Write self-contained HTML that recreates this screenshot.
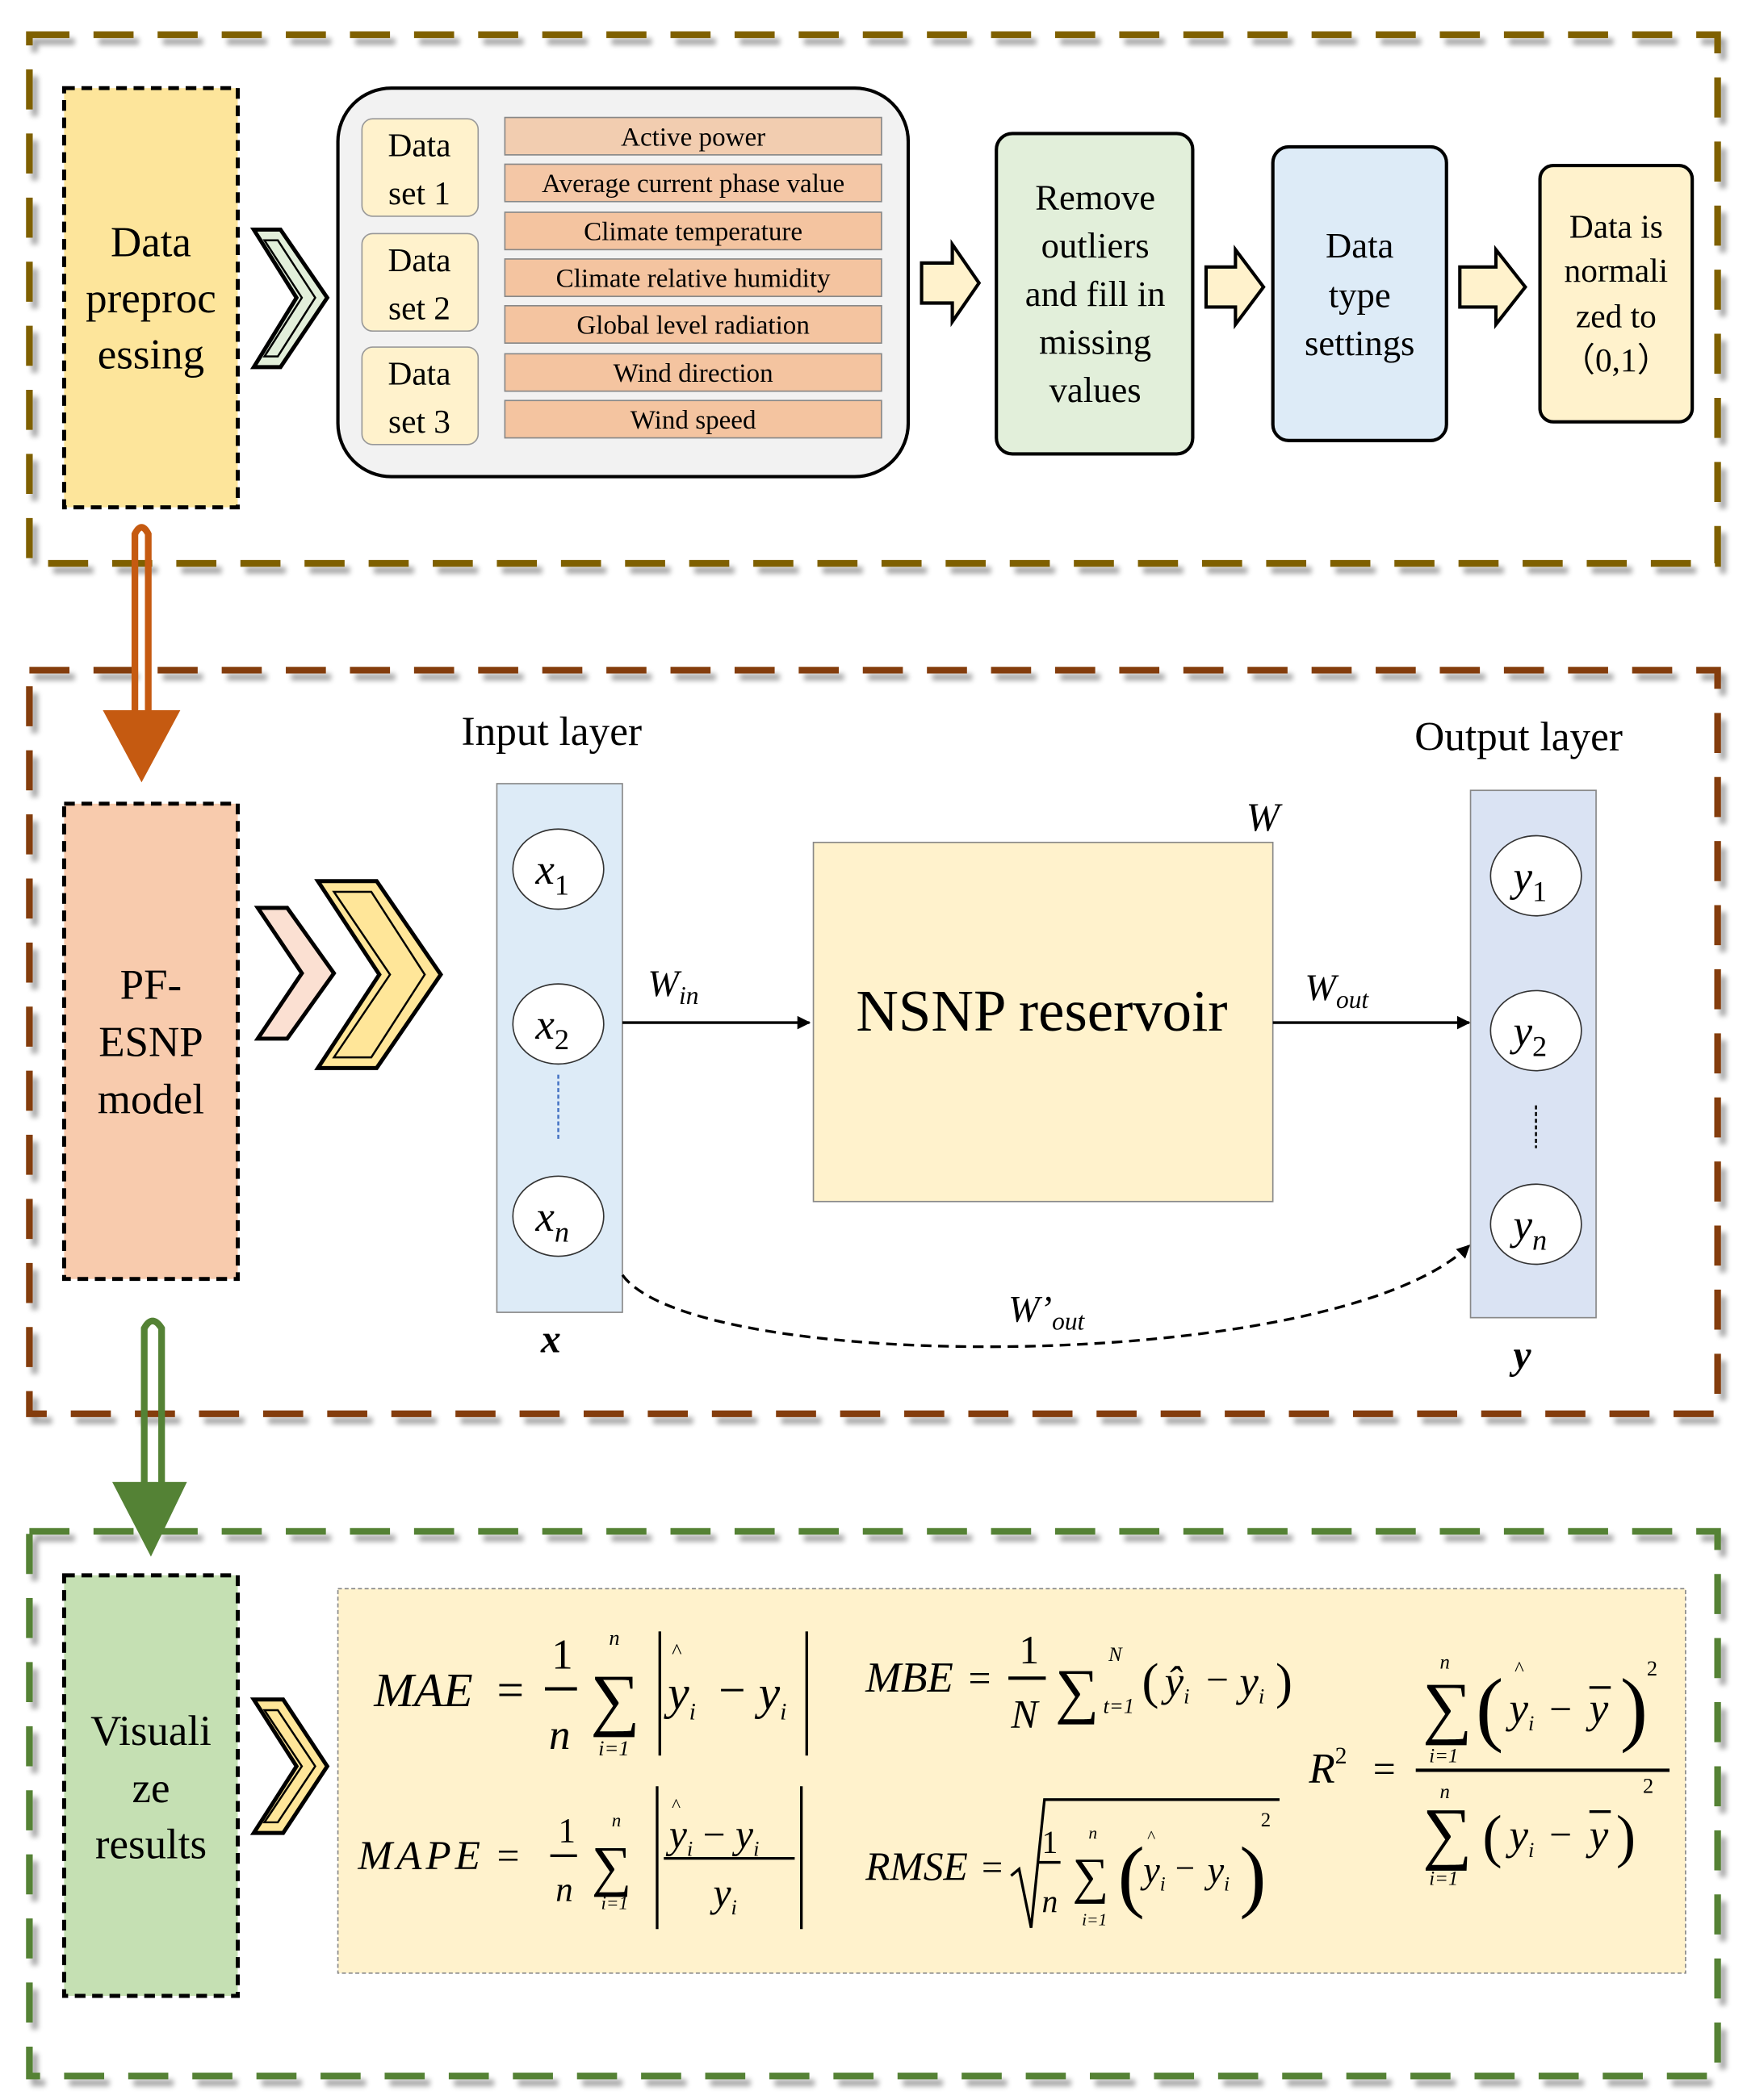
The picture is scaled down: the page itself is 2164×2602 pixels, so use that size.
<!DOCTYPE html>
<html><head><meta charset="utf-8"><style>
html,body{margin:0;padding:0;background:#fff;}
svg{display:block;font-family:"Liberation Serif",serif;}
text{font-family:"Liberation Serif",serif;}
.it{font-style:italic;}
</style></head><body>
<svg width="2164" height="2602" viewBox="0 0 1308 1573" preserveAspectRatio="none" xmlns="http://www.w3.org/2000/svg" font-family="Liberation Serif, serif">
<defs>
<filter id="sh" x="-5%" y="-5%" width="110%" height="110%"><feGaussianBlur in="SourceAlpha" stdDeviation="2"/><feOffset dx="4" dy="5"/><feComponentTransfer><feFuncA type="linear" slope="0.35"/></feComponentTransfer><feMerge><feMergeNode/><feMergeNode in="SourceGraphic"/></feMerge></filter>
<marker id="ah" markerWidth="10" markerHeight="10" refX="9" refY="5" orient="auto" markerUnits="userSpaceOnUse"><path d="M0,0 L10,5 L0,10z" fill="#000"/></marker>
</defs>

<!-- Section frames -->
<rect x="22" y="26" width="1264" height="396" fill="none" stroke="#7f6000" stroke-width="5" stroke-dasharray="30,18" filter="url(#sh)"/>
<rect x="22" y="502" width="1264" height="557" fill="none" stroke="#843c0c" stroke-width="5" stroke-dasharray="30,18" filter="url(#sh)"/>
<rect x="22" y="1147" width="1264" height="408" fill="none" stroke="#548235" stroke-width="5" stroke-dasharray="30,18" filter="url(#sh)"/>

<!-- Section 1 -->
<rect x="48" y="66" width="130" height="314" fill="#fde59b" stroke="#000" stroke-width="3" stroke-dasharray="8,5"/>
<text x="113" y="192" font-size="32" text-anchor="middle">Data</text>
<text x="113" y="234" font-size="32" text-anchor="middle">preproc</text>
<text x="113" y="276" font-size="32" text-anchor="middle">essing</text>
<path d="M190,172 L210,172 L245,223 L210,275 L190,275 L222,223z" fill="#e2efda" stroke="#000" stroke-width="3"/>
<path d="M198,180 L208,180 L236,223 L208,267 L198,267 L226,223z" fill="none" stroke="#000" stroke-width="1.5"/>

<rect x="253" y="66" width="427" height="291" rx="40" fill="#f2f2f2" stroke="#000" stroke-width="2.5"/>
<g font-size="25" text-anchor="middle">
<rect x="271" y="89" width="87" height="73" rx="8" fill="#fff2cc" stroke="#999"/>
<text x="314" y="117">Data</text><text x="314" y="153">set 1</text>
<rect x="271" y="175" width="87" height="73" rx="8" fill="#fff2cc" stroke="#999"/>
<text x="314" y="203">Data</text><text x="314" y="239">set 2</text>
<rect x="271" y="260" width="87" height="73" rx="8" fill="#fff2cc" stroke="#999"/>
<text x="314" y="288">Data</text><text x="314" y="324">set 3</text>
</g>
<g font-size="20" text-anchor="middle" stroke="#888">
<rect x="378" y="88" width="282" height="28" fill="#f2cdb0"/>
<rect x="378" y="123" width="282" height="28" fill="#f4c7a6"/>
<rect x="378" y="159" width="282" height="28" fill="#f4c4a0"/>
<rect x="378" y="194" width="282" height="28" fill="#f4c4a0"/>
<rect x="378" y="229" width="282" height="28" fill="#f4c4a0"/>
<rect x="378" y="265" width="282" height="28" fill="#f4c4a0"/>
<rect x="378" y="300" width="282" height="28" fill="#f4c4a0"/>
</g>
<g font-size="20" text-anchor="middle">
<text x="519" y="109">Active power</text>
<text x="519" y="144">Average current phase value</text>
<text x="519" y="180">Climate temperature</text>
<text x="519" y="215">Climate relative humidity</text>
<text x="519" y="250">Global level radiation</text>
<text x="519" y="286">Wind direction</text>
<text x="519" y="321">Wind speed</text>
</g>

<path d="M690,197 L713,197 L713,183 L733,212 L713,241 L713,227 L690,227z" fill="#fff2cc" stroke="#000" stroke-width="2.5"/>
<rect x="746" y="100" width="147" height="240" rx="12" fill="#e2efda" stroke="#000" stroke-width="2.5"/>
<g font-size="27" text-anchor="middle">
<text x="820" y="157">Remove</text><text x="820" y="193">outliers</text><text x="820" y="229">and fill in</text><text x="820" y="265">missing</text><text x="820" y="301">values</text>
</g>
<path d="M903,200 L925,200 L925,187 L946,215 L925,243 L925,230 L903,230z" fill="#fff2cc" stroke="#000" stroke-width="2.5"/>
<rect x="953" y="110" width="130" height="220" rx="12" fill="#ddebf7" stroke="#000" stroke-width="2.5"/>
<g font-size="27" text-anchor="middle">
<text x="1018" y="193">Data</text><text x="1018" y="230">type</text><text x="1018" y="266">settings</text>
</g>
<path d="M1093,200 L1120,200 L1120,187 L1142,215 L1120,243 L1120,230 L1093,230z" fill="#fff2cc" stroke="#000" stroke-width="2.5"/>
<rect x="1153" y="124" width="114" height="192" rx="10" fill="#fff2cc" stroke="#000" stroke-width="2.5"/>
<g font-size="25" text-anchor="middle">
<text x="1210" y="178">Data is</text><text x="1210" y="211">normali</text><text x="1210" y="245">zed   to</text><text x="1210" y="278">（0,1）</text>
</g>

<!-- orange arrow -->
<path d="M101,540 L101,400 Q106,390 111,400 L111,540" fill="none" stroke="#c55a11" stroke-width="5"/>
<path d="M77,532 L135,532 L106,586z" fill="#c55a11"/>

<!-- Section 2 -->
<rect x="48" y="602" width="130" height="356" fill="#f8cbad" stroke="#000" stroke-width="3" stroke-dasharray="8,5"/>
<text x="113" y="748" font-size="32" text-anchor="middle">PF-</text>
<text x="113" y="791" font-size="32" text-anchor="middle">ESNP</text>
<text x="113" y="834" font-size="32" text-anchor="middle">model</text>
<path d="M193,680 L215,680 L250,729 L215,778 L193,778 L226,729z" fill="#fbe0d2" stroke="#000" stroke-width="3"/>
<path d="M238,660 L282,660 L330,730 L282,800 L238,800 L284,730z" fill="#ffe699" stroke="#000" stroke-width="3"/>
<path d="M250,668 L278,668 L318,730 L278,792 L250,792 L292,730z" fill="none" stroke="#000" stroke-width="1.5"/>

<text x="413" y="558" font-size="31" text-anchor="middle">Input layer</text>
<text x="1137" y="562" font-size="31" text-anchor="middle">Output layer</text>
<rect x="372" y="587" width="94" height="396" fill="#ddebf7" stroke="#888"/>
<rect x="1101" y="592" width="94" height="395" fill="#dae3f3" stroke="#888"/>
<g fill="#fff" stroke="#333">
<ellipse cx="418" cy="651" rx="34" ry="30"/><ellipse cx="418" cy="767" rx="34" ry="30"/><ellipse cx="418" cy="911" rx="34" ry="30"/>
<ellipse cx="1150" cy="656" rx="34" ry="30"/><ellipse cx="1150" cy="772" rx="34" ry="30"/><ellipse cx="1150" cy="917" rx="34" ry="30"/>
</g>
<line x1="418" y1="805" x2="418" y2="855" stroke="#4472c4" stroke-width="1.5" stroke-dasharray="3,2"/>
<g font-size="32" class="it">
<text x="401" y="662" class="it">x<tspan font-size="22" font-style="normal" dy="8">1</tspan></text>
<text x="401" y="778" class="it">x<tspan font-size="22" font-style="normal" dy="8">2</tspan></text>
<text x="401" y="922" class="it">x<tspan font-size="22" class="it" dy="8">n</tspan></text>
<text x="1133" y="667" class="it">y<tspan font-size="22" font-style="normal" dy="8">1</tspan></text>
<text x="1133" y="783" class="it">y<tspan font-size="22" font-style="normal" dy="8">2</tspan></text>
<text x="1133" y="928" class="it">y<tspan font-size="22" class="it" dy="8">n</tspan></text>
</g>
<rect x="609" y="631" width="344" height="269" fill="#fff2cc" stroke="#888"/>
<text x="780" y="772" font-size="44" text-anchor="middle">NSNP reservoir</text>
<text x="933" y="622" font-size="30" class="it">W</text>
<line x1="466" y1="766" x2="606" y2="766" stroke="#000" stroke-width="2" marker-end="url(#ah)"/>
<line x1="953" y1="766" x2="1100" y2="766" stroke="#000" stroke-width="2" marker-end="url(#ah)"/>
<text x="485" y="746" font-size="28" class="it">W<tspan font-size="19" dy="6">in</tspan></text>
<text x="977" y="749" font-size="28" class="it">W<tspan font-size="19" dy="6">out</tspan></text>
<path d="M466,955 C520,1030 1000,1030 1100,933" fill="none" stroke="#000" stroke-width="2" stroke-dasharray="8,5" marker-end="url(#ah)"/>
<text x="755" y="990" font-size="28" class="it">W’<tspan font-size="19" dy="6">out</tspan></text>
<text x="405" y="1013" font-size="30" class="it" font-weight="bold">x</text>
<text x="1133" y="1025" font-size="30" class="it" font-weight="bold">y</text>
<line x1="1150" y1="828" x2="1150" y2="860" stroke="#000" stroke-width="1.5" stroke-dasharray="3,2"/>

<!-- green arrow -->
<path d="M108,1112 L108,995 Q114,984 121,995 L121,1112" fill="none" stroke="#548235" stroke-width="5"/>
<path d="M84,1110 L140,1110 L113,1166z" fill="#548235"/>

<!-- Section 3 -->
<rect x="48" y="1180" width="130" height="315" fill="#c5e0b3" stroke="#000" stroke-width="3" stroke-dasharray="8,5"/>
<text x="113" y="1307" font-size="32" text-anchor="middle">Visuali</text>
<text x="113" y="1350" font-size="32" text-anchor="middle">ze</text>
<text x="113" y="1392" font-size="32" text-anchor="middle">results</text>
<path d="M190,1273 L212,1273 L245,1323 L212,1373 L190,1373 L222,1323z" fill="#ffe699" stroke="#000" stroke-width="3"/>
<path d="M198,1281 L208,1281 L236,1323 L208,1365 L198,1365 L226,1323z" fill="none" stroke="#000" stroke-width="1.5"/>
<rect x="253" y="1190" width="1009" height="288" fill="#fff2cc" stroke="#888" stroke-dasharray="3,2"/>

<g class="it" font-size="36">
<!-- MAE -->
<text x="280" y="1278">MAE</text><text x="372" y="1278" font-style="normal">=</text>
<text x="413" y="1250" font-size="32" font-style="normal">1</text>
<line x1="408" y1="1265" x2="432" y2="1265" stroke="#000" stroke-width="2.5"/>
<text x="411" y="1310" font-size="32">n</text>
<text x="442" y="1290" font-size="52" font-style="normal">∑</text>
<text x="456" y="1232" font-size="16">n</text><text x="448" y="1315" font-size="16">i=1</text>
<line x1="494" y1="1222" x2="494" y2="1315" stroke="#000" stroke-width="2"/>
<text x="503" y="1242" font-size="16" font-style="normal">^</text>
<text x="500" y="1280">y<tspan font-size="18" dy="8">i</tspan></text>
<text x="538" y="1278" font-style="normal">−</text>
<text x="568" y="1280">y<tspan font-size="18" dy="8">i</tspan></text>
<line x1="604" y1="1222" x2="604" y2="1315" stroke="#000" stroke-width="2"/>
<!-- MAPE -->
<text x="268" y="1400" font-size="31" letter-spacing="3">MAPE</text><text x="372" y="1400" font-style="normal" font-size="30">=</text>
<text x="418" y="1380" font-size="26" font-style="normal">1</text>
<line x1="412" y1="1390" x2="432" y2="1390" stroke="#000" stroke-width="2"/>
<text x="416" y="1424" font-size="26">n</text>
<text x="443" y="1412" font-size="42" font-style="normal">∑</text>
<text x="458" y="1368" font-size="14">n</text><text x="450" y="1430" font-size="14">i=1</text>
<line x1="492" y1="1338" x2="492" y2="1445" stroke="#000" stroke-width="2"/>
<line x1="600" y1="1338" x2="600" y2="1445" stroke="#000" stroke-width="2"/>
<text x="503" y="1357" font-size="14" font-style="normal">^</text>
<text x="501" y="1384" font-size="30">y<tspan font-size="16" dy="6">i</tspan> <tspan dy="-6" font-style="normal">−</tspan> y<tspan font-size="16" dy="6">i</tspan></text>
<line x1="497" y1="1392" x2="595" y2="1392" stroke="#000" stroke-width="2"/>
<text x="534" y="1428" font-size="30">y<tspan font-size="16" dy="6">i</tspan></text>
<!-- MBE -->
<text x="648" y="1267" font-size="32">MBE</text><text x="725" y="1267" font-style="normal" font-size="30">=</text>
<text x="763" y="1246" font-size="30" font-style="normal">1</text>
<line x1="755" y1="1257" x2="783" y2="1257" stroke="#000" stroke-width="2.5"/>
<text x="757" y="1294" font-size="30">N</text>
<text x="790" y="1282" font-size="46" font-style="normal">∑</text>
<text x="830" y="1244" font-size="15">N</text><text x="826" y="1283" font-size="16">t=1</text>
<text x="855" y="1272" font-size="38" font-style="normal">(</text>
<text x="872" y="1270" font-size="32">ŷ<tspan font-size="16" dy="6">i</tspan></text>
<text x="903" y="1268" font-size="30" font-style="normal">−</text>
<text x="928" y="1270" font-size="32">y<tspan font-size="16" dy="6">i</tspan></text>
<text x="955" y="1272" font-size="38" font-style="normal">)</text>
<!-- RMSE -->
<text x="648" y="1408" font-size="30">RMSE</text><text x="735" y="1408" font-style="normal" font-size="28">=</text>
<path d="M757,1405 L763,1400 L772,1444 L782,1348 L958,1348" fill="none" stroke="#000" stroke-width="2"/>
<text x="780" y="1388" font-size="24" font-style="normal">1</text>
<line x1="777" y1="1395" x2="794" y2="1395" stroke="#000" stroke-width="2"/>
<text x="780" y="1432" font-size="24">n</text>
<text x="803" y="1418" font-size="38" font-style="normal">∑</text>
<text x="815" y="1377" font-size="13">n</text><text x="810" y="1442" font-size="13">i=1</text>
<text x="837" y="1425" font-size="60" font-style="normal" font-weight="100">(</text>
<text x="859" y="1380" font-size="13" font-style="normal">^</text>
<text x="856" y="1410" font-size="28">y<tspan font-size="15" dy="6">i</tspan></text>
<text x="880" y="1408" font-size="26" font-style="normal">−</text>
<text x="904" y="1410" font-size="28">y<tspan font-size="15" dy="6">i</tspan></text>
<text x="928" y="1425" font-size="60" font-style="normal" font-weight="100">)</text>
<text x="944" y="1368" font-size="15" font-style="normal">2</text>
<!-- R2 -->
<text x="980" y="1335" font-size="32">R<tspan font-size="18" font-style="normal" dy="-14">2</tspan></text>
<text x="1028" y="1335" font-size="30" font-style="normal">=</text>
<line x1="1060" y1="1326" x2="1250" y2="1326" stroke="#000" stroke-width="2.5"/>
<text x="1065" y="1296" font-size="52" font-style="normal">∑</text>
<text x="1078" y="1250" font-size="15">n</text><text x="1070" y="1320" font-size="15">i=1</text>
<text x="1105" y="1300" font-size="62" font-style="normal" font-weight="100">(</text>
<text x="1134" y="1255" font-size="15" font-style="normal">^</text>
<text x="1130" y="1290" font-size="32">y<tspan font-size="16" dy="6">i</tspan></text>
<text x="1160" y="1290" font-size="30" font-style="normal">−</text>
<text x="1190" y="1290" font-size="32">y</text>
<line x1="1190" y1="1264" x2="1206" y2="1264" stroke="#000" stroke-width="2"/>
<text x="1213" y="1300" font-size="62" font-style="normal" font-weight="100">)</text>
<text x="1233" y="1255" font-size="16" font-style="normal">2</text>
<text x="1065" y="1390" font-size="52" font-style="normal">∑</text>
<text x="1078" y="1347" font-size="15">n</text><text x="1070" y="1412" font-size="15">i=1</text>
<text x="1110" y="1390" font-size="44" font-style="normal">(</text>
<text x="1130" y="1385" font-size="32">y<tspan font-size="16" dy="6">i</tspan></text>
<text x="1160" y="1384" font-size="30" font-style="normal">−</text>
<text x="1190" y="1385" font-size="32">y</text>
<line x1="1190" y1="1357" x2="1206" y2="1357" stroke="#000" stroke-width="2"/>
<text x="1210" y="1390" font-size="44" font-style="normal">)</text>
<text x="1230" y="1343" font-size="16" font-style="normal">2</text>
</g>
</svg>
</body></html>
